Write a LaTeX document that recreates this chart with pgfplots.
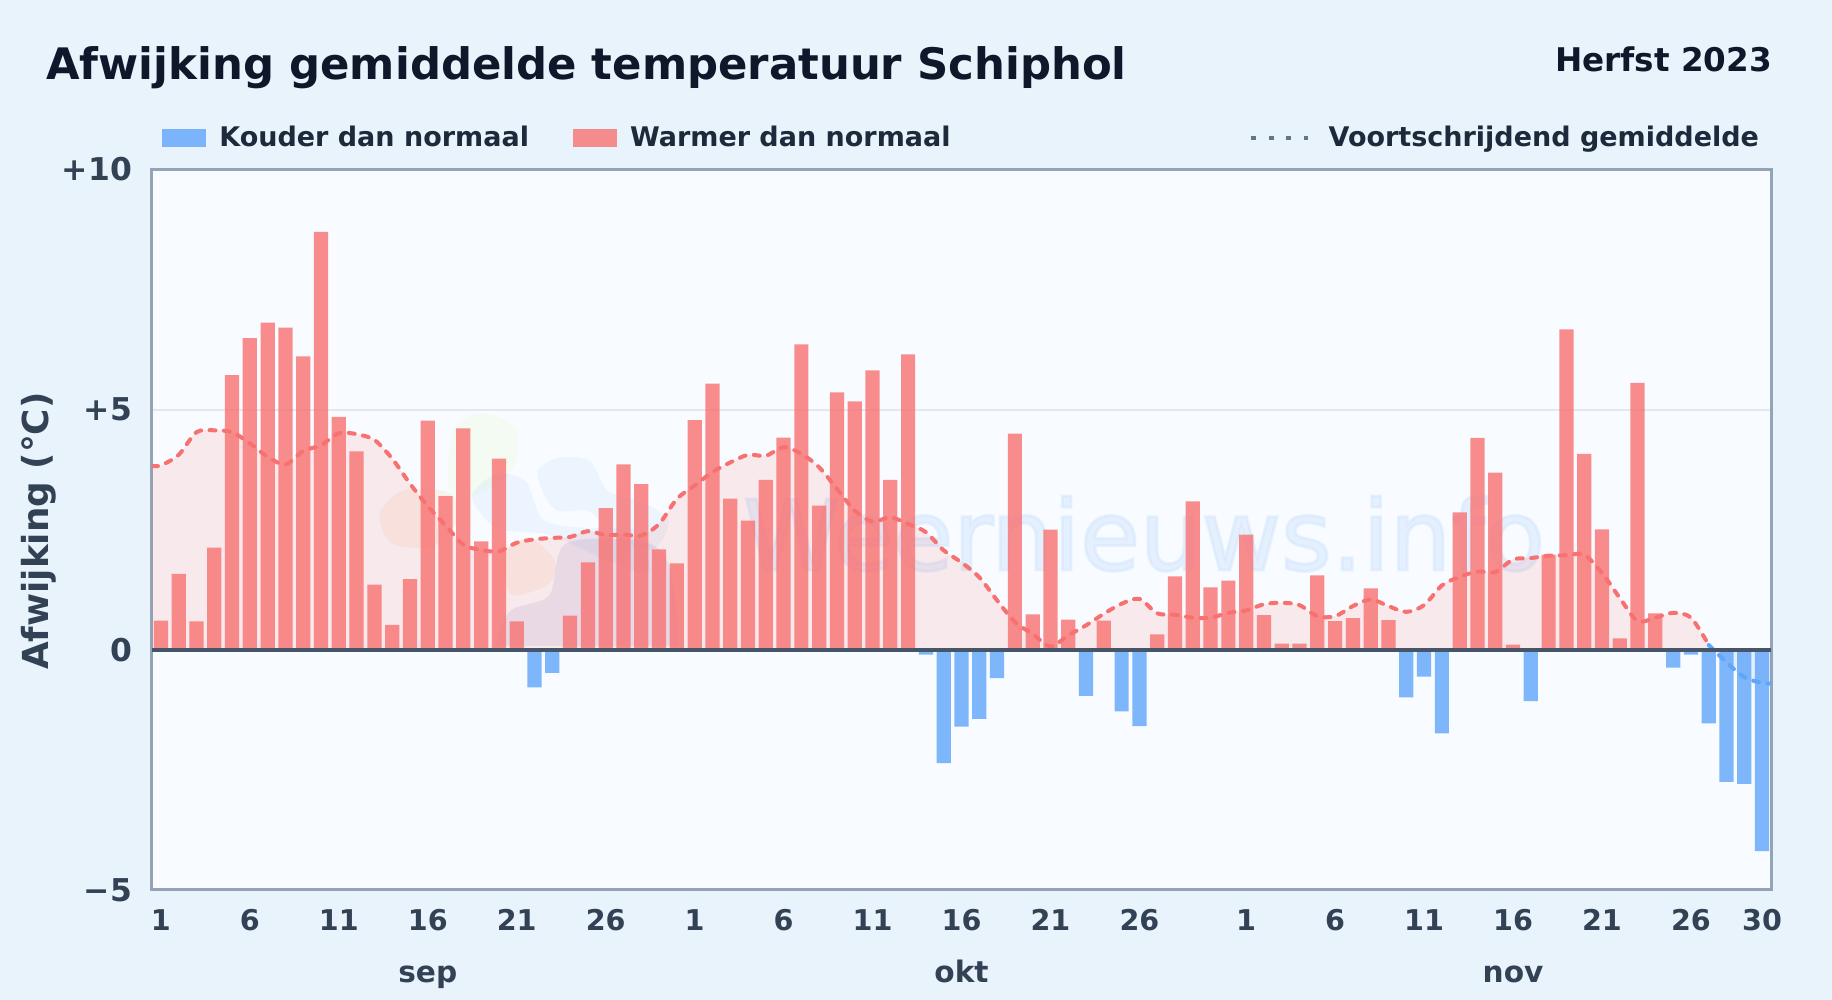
\documentclass[border=0pt]{standalone}
\usepackage{fontspec}
\setmainfont{DejaVu Sans}
\newfontfamily\markfont[FakeBold=3]{DejaVu Sans}
\usepackage{pgfplots}
\pgfplotsset{compat=1.18}

\definecolor{pagebg}{HTML}{E8F3FC}
\definecolor{plotbg}{HTML}{F8FBFF}
\definecolor{warm}{HTML}{F87171}
\definecolor{cold}{HTML}{60A5FA}
\definecolor{frame}{HTML}{94A3B8}
\definecolor{gridc}{HTML}{E2E8F0}
\definecolor{zeroc}{HTML}{475569}
\definecolor{inkdark}{HTML}{0F172A}
\definecolor{inkleg}{HTML}{1E293B}
\definecolor{inktick}{HTML}{334155}
\definecolor{dotc}{HTML}{64748B}

\pgfplotsset{
    swatch/.style={legend image code/.code={
        \fill[##1,draw=none] (0pt,-4.7pt) rectangle (22pt,4.7pt);
    }},
    dotted key/.style={legend image code/.code={
        \draw[##1] (0pt,0pt) -- (28.5pt,0pt);
    }},
}

\begin{document}
\begin{tikzpicture}
    \path[use as bounding box] (0,0) rectangle (916pt,500pt);
    \fill[pagebg] (0,0) rectangle (916pt,500pt);
    \fill[plotbg] (76pt,55pt) rectangle (885.5pt,415.25pt);

    % watermark, coordinates in px of the 1568 wide view
    \begin{scope}[x=0.584pt,y=-0.584pt,yshift=500pt]
        \clip (130,145) rectangle (1516,553);
        \fill[green!40!yellow,opacity=0.05] plot[smooth cycle] coordinates {(385,385)(392,362)(415,354)(440,365)(443,390)(430,412)(400,425)(385,420)};
        \fill[cold,opacity=0.08] plot[smooth cycle] coordinates {(460,405)(478,392)(505,395)(520,420)(545,428)(572,445)(560,470)(530,462)(505,438)(475,436)};
        \fill[blue!50!cyan,opacity=0.05] plot[smooth cycle] coordinates {(404,425)(425,406)(450,412)(465,445)(500,452)(545,455)(555,490)(520,480)(470,458)(425,452)};
        \fill[orange,opacity=0.07] plot[smooth cycle] coordinates {(325,440)(345,420)(385,422)(392,445)(370,468)(335,465)};
        \fill[orange,opacity=0.07] plot[smooth cycle] coordinates {(432,475)(452,460)(475,480)(470,500)(440,510)(432,495)};
        \fill[blue!40!gray,opacity=0.10] plot[smooth cycle] coordinates {(434,570)(435,525)(470,510)(485,465)(555,465)(575,495)(570,570)};
        \node[anchor=base west,inner sep=0pt,text=cold!30!white,opacity=0.45,font=\markfont\fontsize{48.6}{50}\selectfont] at (636,488) {Weernieuws.info};
    \end{scope}

    \begin{axis}[
        at={(76pt,55pt)}, anchor=south west,
        scale only axis,
        width=809.5pt, height=360.25pt,
        xmin=-0.5, xmax=90.5,
        ymin=-5, ymax=10,
        axis line style={frame, line width=1.5pt},
        clip=true,
        clip mode=individual,
        major tick length=0pt,
        xtick={0,5,10,15,20,25,30,35,40,45,50,55,61,66,71,76,81,86,90},
        xticklabels={1,6,11,16,21,26,1,6,11,16,21,26,1,6,11,16,21,26,30},
        ytick={-5,0,5,10},
        yticklabels={−5,0,+5,+10},
        tick label style={font=\fontsize{14.3}{16}\selectfont\bfseries, text=inktick},
        yticklabel style={font=\fontsize{15.7}{18}\selectfont\bfseries, xshift=-6.5pt},
        xticklabel style={yshift=-6.2pt},
        ymajorgrids,
        grid style={gridc, line width=1pt},
        ylabel={Afwijking (°C)},
        ylabel style={font=\fontsize{17.9}{20}\selectfont\bfseries, text=inktick, anchor=center, at={(axis description cs:-0.07,0.498)}},
        ybar, bar shift=0pt, bar width=0.8,
        legend columns=3,
        legend cell align=left,
        legend style={
            at={(axis description cs:0.0064,1.0438)}, anchor=west,
            draw=none, fill=none, inner sep=0pt, outer sep=0pt,
            font=\fontsize{13.5}{15}\selectfont\bfseries, text=inkleg,
            nodes={inner sep=0pt},
            /tikz/column 1/.style={column sep=6.5pt},
            /tikz/column 2/.style={column sep=22pt},
            /tikz/column 3/.style={column sep=6.5pt},
            /tikz/column 4/.style={column sep=149.5pt},
            /tikz/column 5/.style={column sep=9.2pt},
        },
    ]
    \addlegendimage{swatch, fill=cold, fill opacity=0.8}
    \addlegendimage{swatch, fill=warm, fill opacity=0.8}
    \addlegendimage{dotted key, dotc, line width=1.8pt, dash pattern=on 2.5pt off 6.2pt}

    % area under the running mean
    \addplot[sharp plot, smooth, tension=0.5, draw=none, fill=warm, fill opacity=0.13, forget plot] coordinates {
        (-0.5,3.83) (0,3.84) (1,4.06) (2,4.53) (3,4.57) (4,4.53) (5,4.30) (6,4.02) (7,3.86) (8,4.14) (9,4.26)
        (10,4.51) (11,4.49) (12,4.37) (13,3.98) (14,3.46) (15,2.99) (16,2.59) (17,2.19) (18,2.08) (19,2.05)
        (20,2.23) (21,2.30) (22,2.33) (23,2.35) (24,2.47) (25,2.39) (26,2.40) (27,2.38) (28,2.62) (29,3.14)
        (30,3.42) (31,3.70) (32,3.90) (33,4.06) (34,4.04) (35,4.22) (36,4.08) (37,3.80) (38,3.35) (39,2.90)
        (40,2.67) (41,2.76) (42,2.62) (43,2.45) (44,2.07) (45,1.82) (46,1.51) (47,1.03) (48,0.58) (49,0.33)
        (50,0.07) (51,0.30) (52,0.51) (53,0.75) (54,0.96) (55,1.06) (56,0.76) (57,0.73) (58,0.67) (59,0.67)
        (60,0.77) (61,0.82) (62,0.95) (63,0.98) (64,0.93) (65,0.70) (66,0.70) (67,0.91) (68,1.05) (69,0.91)
        (70,0.79) (71,0.93) (72,1.34) (73,1.52) (74,1.63) (75,1.62) (76,1.88) (77,1.91) (78,1.96) (79,1.97)
        (80,1.98) (81,1.60) (82,1.08) (83,0.60) (84,0.67) (85,0.77) (86,0.67) (87,0.10)
    } \closedcycle;
    \addplot[sharp plot, smooth, tension=0.5, draw=none, fill=cold, fill opacity=0.13, forget plot] coordinates {
        (87,0.10) (88,-0.26) (89,-0.57) (90,-0.69) (90.5,-0.70)
    } \closedcycle;

    % warmer days
    \addplot[draw=none, fill=warm, fill opacity=0.8, forget plot] coordinates {
        (0,0.61) (1,1.58) (2,0.59) (3,2.13) (4,5.72) (5,6.49) (6,6.81) (7,6.71) (8,6.11) (9,8.70)
        (10,4.85) (11,4.13) (12,1.36) (13,0.52) (14,1.47) (15,4.77) (16,3.20) (17,4.61) (18,2.26) (19,3.98)
        (20,0.59) (23,0.71) (24,1.82) (25,2.95) (26,3.86) (27,3.45) (28,2.09) (29,1.80)
        (30,4.78) (31,5.54) (32,3.15) (33,2.69) (34,3.54) (35,4.42) (36,6.36) (37,3.00) (38,5.36) (39,5.17)
        (40,5.82) (41,3.54) (42,6.15) (48,4.50) (49,0.74) (50,2.50) (51,0.63) (53,0.61) (56,0.32) (57,1.53)
        (58,3.09) (59,1.30) (60,1.44) (61,2.40) (62,0.72) (63,0.13) (64,0.13) (65,1.55) (66,0.60) (67,0.66)
        (68,1.28) (69,0.62) (73,2.86) (74,4.41) (75,3.69) (76,0.11) (78,1.98) (79,6.67) (80,4.08) (81,2.51)
        (82,0.24) (83,5.56) (84,0.76)
    };
    % colder days
    \addplot[draw=none, fill=cold, fill opacity=0.8, forget plot] coordinates {
        (21,-0.78) (22,-0.48) (43,-0.10) (44,-2.36) (45,-1.60) (46,-1.44) (47,-0.59) (52,-0.96) (54,-1.28) (55,-1.59)
        (70,-0.99) (71,-0.56) (72,-1.74) (77,-1.07) (85,-0.37) (86,-0.10) (87,-1.53) (88,-2.75) (89,-2.79) (90,-4.19)
    };

    % running mean
    \addplot[sharp plot, smooth, tension=0.5, warm, line width=2pt, line cap=round, dash pattern=on 3pt off 4.2pt, fill=none, forget plot] coordinates {
        (-0.5,3.83) (0,3.84) (1,4.06) (2,4.53) (3,4.57) (4,4.53) (5,4.30) (6,4.02) (7,3.86) (8,4.14) (9,4.26)
        (10,4.51) (11,4.49) (12,4.37) (13,3.98) (14,3.46) (15,2.99) (16,2.59) (17,2.19) (18,2.08) (19,2.05)
        (20,2.23) (21,2.30) (22,2.33) (23,2.35) (24,2.47) (25,2.39) (26,2.40) (27,2.38) (28,2.62) (29,3.14)
        (30,3.42) (31,3.70) (32,3.90) (33,4.06) (34,4.04) (35,4.22) (36,4.08) (37,3.80) (38,3.35) (39,2.90)
        (40,2.67) (41,2.76) (42,2.62) (43,2.45) (44,2.07) (45,1.82) (46,1.51) (47,1.03) (48,0.58) (49,0.33)
        (50,0.07) (51,0.30) (52,0.51) (53,0.75) (54,0.96) (55,1.06) (56,0.76) (57,0.73) (58,0.67) (59,0.67)
        (60,0.77) (61,0.82) (62,0.95) (63,0.98) (64,0.93) (65,0.70) (66,0.70) (67,0.91) (68,1.05) (69,0.91)
        (70,0.79) (71,0.93) (72,1.34) (73,1.52) (74,1.63) (75,1.62) (76,1.88) (77,1.91) (78,1.96) (79,1.97)
        (80,1.98) (81,1.60) (82,1.08) (83,0.60) (84,0.67) (85,0.77) (86,0.67) (87,0.10)
    };
    \addplot[sharp plot, smooth, tension=0.5, cold, line width=2pt, line cap=round, dash pattern=on 3pt off 4.2pt, fill=none, forget plot] coordinates {
        (87,0.10) (88,-0.26) (89,-0.57) (90,-0.69) (90.5,-0.70)
    };

    % zero line
    \addplot[sharp plot, zeroc, line width=1.8pt, fill=none, forget plot] coordinates {(-0.5,0) (90.5,0)};

    \legend{Kouder dan normaal, Warmer dan normaal, Voortschrijdend gemiddelde}

    \node[anchor=base, font=\fontsize{14.8}{16}\selectfont\bfseries, text=inktick] at (axis cs:15,-6.93) {sep};
    \node[anchor=base, font=\fontsize{14.8}{16}\selectfont\bfseries, text=inktick] at (axis cs:45,-6.93) {okt};
    \node[anchor=base, font=\fontsize{14.8}{16}\selectfont\bfseries, text=inktick] at (axis cs:76,-6.93) {nov};
    \end{axis}

    \node[anchor=base west, inner sep=0pt, text=inkdark, font=\fontsize{21.69}{24}\selectfont\bfseries] at (23pt,460.4pt) {Afwijking gemiddelde temperatuur Schiphol};
    \node[anchor=base east, inner sep=0pt, text=inkdark, font=\fontsize{16.3}{18}\selectfont\bfseries] at (886.2pt,464.4pt) {Herfst 2023};
\end{tikzpicture}
\end{document}
